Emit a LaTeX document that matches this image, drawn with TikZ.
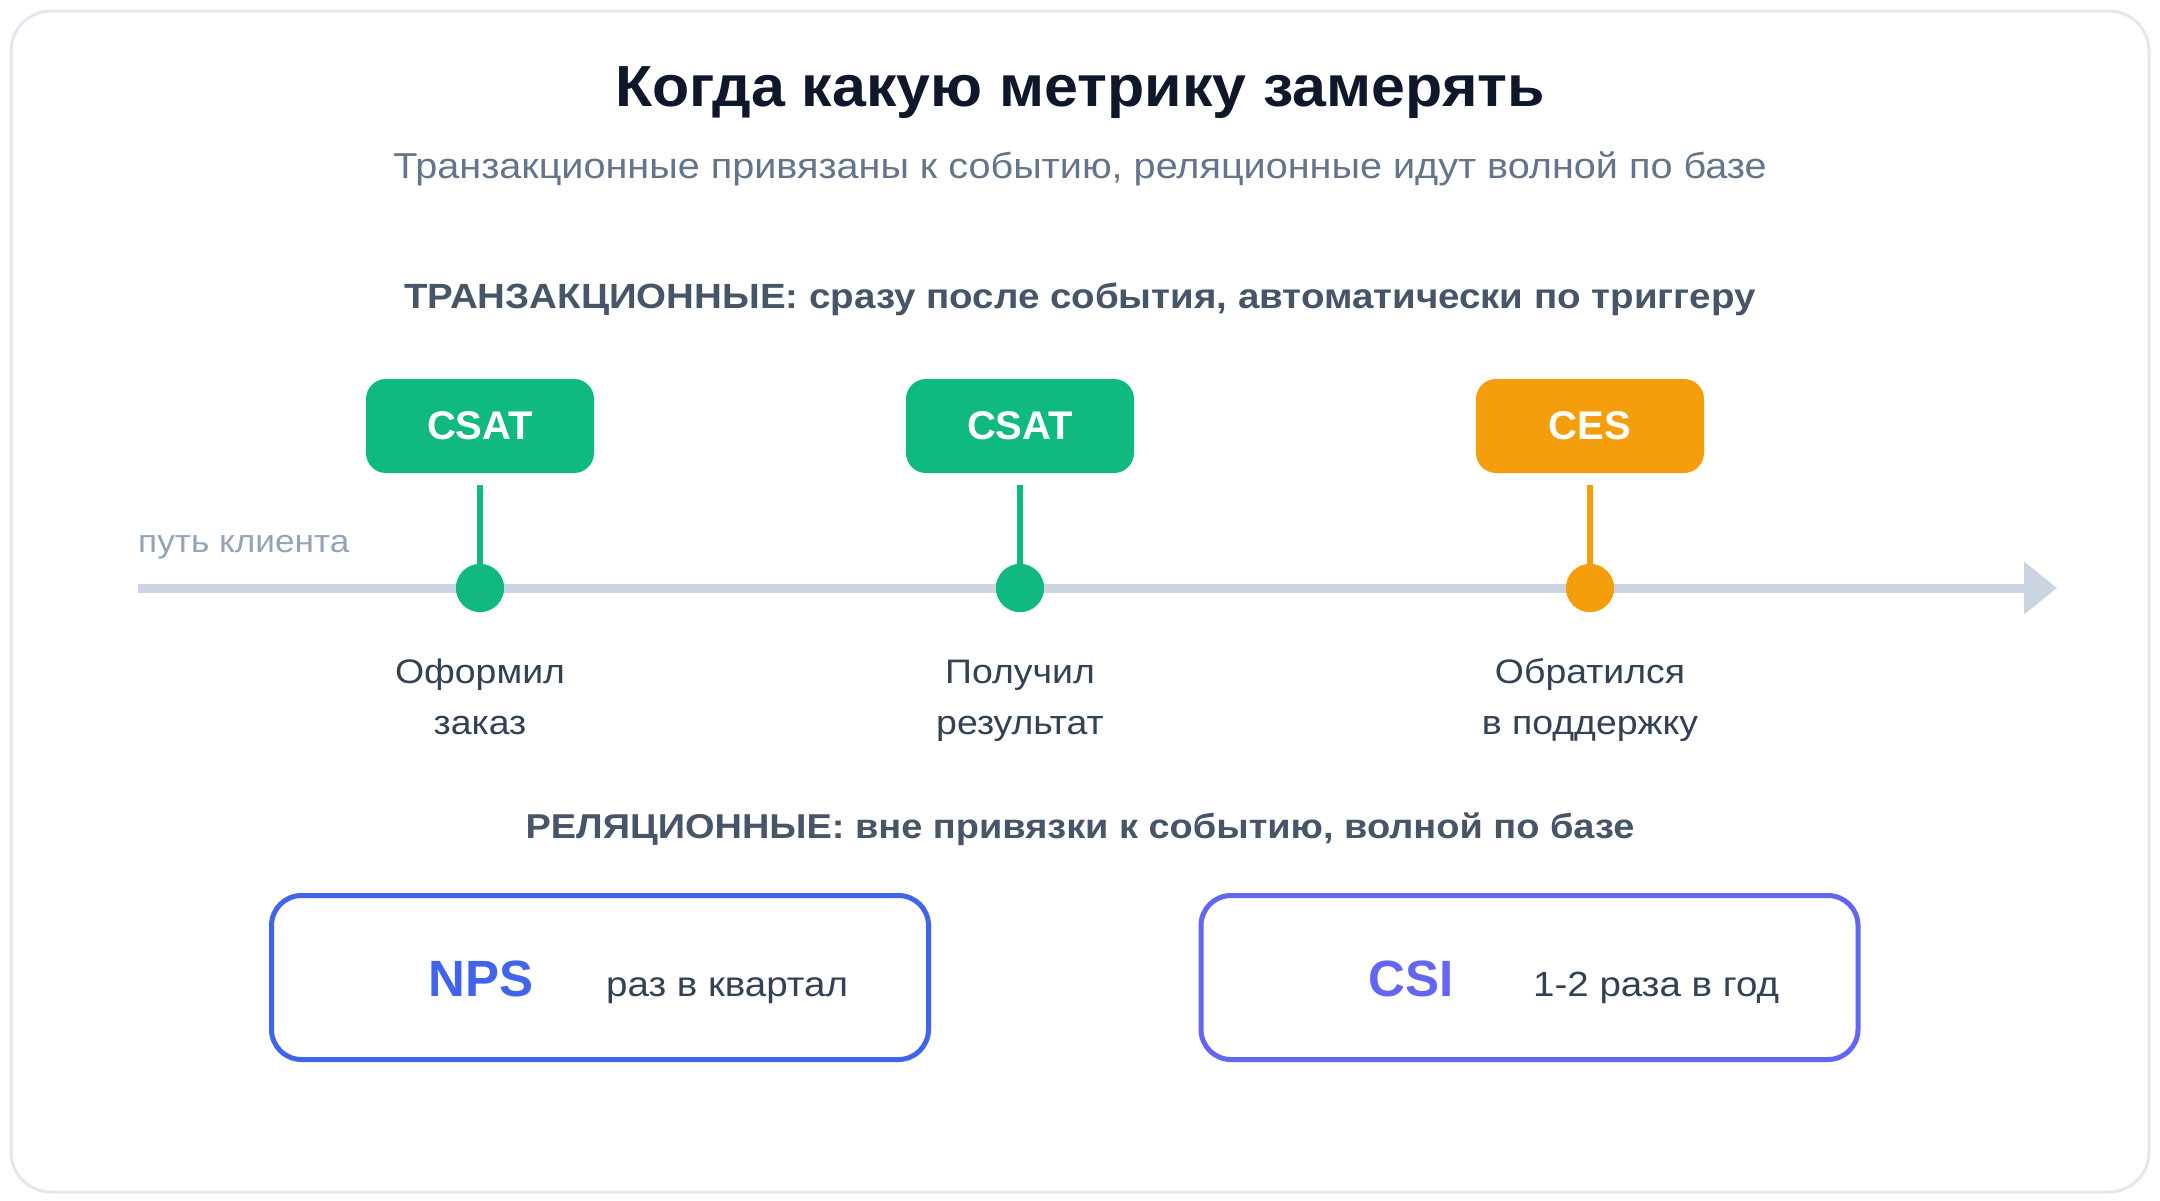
\documentclass[tikz,border=0pt]{standalone}
\usepackage{fontspec}
\setmainfont{Liberation Sans}
\newfontfamily\wide{Liberation Sans}[FakeStretch=1.1]
\newfontfamily\titlefont{Liberation Sans}[FakeStretch=1.05]
\usetikzlibrary{arrows.meta}
\definecolor{cTitle}{HTML}{0F172A}
\definecolor{cSub}{HTML}{64748B}
\definecolor{cHead}{HTML}{475569}
\definecolor{cPath}{HTML}{94A3B8}
\definecolor{cText}{HTML}{334155}
\definecolor{cGreen}{HTML}{10B981}
\definecolor{cAmber}{HTML}{F59E0B}
\definecolor{cBlue}{HTML}{4263EB}
\definecolor{cIndigo}{HTML}{6366F1}
\definecolor{cLine}{HTML}{CBD5E1}
\definecolor{cFrame}{HTML}{E2E8F0}
\tikzset{
  tag/.style={rounded corners=20pt, minimum width=228pt, minimum height=94pt, inner sep=0pt,
    text=white, font=\fontsize{40}{44}\selectfont\bfseries},
  dot/.style={circle, minimum size=48pt, inner sep=0pt},
  stem/.style={line width=6pt, shorten <=12pt},
  evt/.style={align=center, text=cText, font=\wide\fontsize{34}{51}\selectfont, inner sep=0pt},
  relbox/.style={rounded corners=30pt, line width=5pt, minimum width=657pt, minimum height=164pt, fill=white},
  metric/.style={font=\fontsize{51}{55}\selectfont\bfseries, inner sep=0pt, anchor=base west},
  freq/.style={font=\wide\fontsize{35}{40}\selectfont, text=cText, inner sep=0pt, anchor=base west},
  head/.style={font=\wide\fontsize{35}{40}\selectfont\bfseries, text=cHead, inner sep=0pt, anchor=base}
}
\begin{document}
\begin{tikzpicture}[x=1pt, y=-1pt]
\useasboundingbox (0,0) rectangle (2160,1200);
\fill[white] (0,0) rectangle (2160,1200);
\draw[cFrame, line width=3pt, rounded corners=40pt, fill=white] (11,11) rectangle (2149,1192);

\node[font=\titlefont\fontsize{58}{62}\selectfont\bfseries, text=cTitle, inner sep=0pt, anchor=base] (title) at (1080,106) {Когда какую метрику замерять};
\node[font=\wide\fontsize{36}{40}\selectfont, text=cSub, inner sep=0pt, anchor=base] (sub) at (1080,178) {Транзакционные привязаны к событию, реляционные идут волной по базе};

\node[head] (h1) at (1080,308) {ТРАНЗАКЦИОННЫЕ: сразу после события, автоматически по триггеру};

% timeline
\coordinate (tl0) at (138,588);
\coordinate (tl1) at (2057,588);
\draw[cLine, line width=9pt, -{Triangle[length=33pt, width=51pt]}] (tl0) -- (tl1);
\node[font=\wide\fontsize{32}{36}\selectfont, text=cPath, inner sep=0pt, anchor=base west] (path) at (138,552) {путь клиента};

\node[tag, fill=cGreen] (b1) at (480,426) {CSAT};
\node[tag, fill=cGreen] (b2) at (1020,426) {CSAT};
\node[tag, fill=cAmber] (b3) at (1590,426) {CES};

\node[dot, fill=cGreen] (d1) at (480,588) {};
\node[dot, fill=cGreen] (d2) at (1020,588) {};
\node[dot, fill=cAmber] (d3) at (1590,588) {};

\draw[stem, cGreen] (b1.south) -- (d1.center);
\draw[stem, cGreen] (b2.south) -- (d2.center);
\draw[stem, cAmber] (b3.south) -- (d3.center);
\node[dot, fill=cGreen] at (d1) {};
\node[dot, fill=cGreen] at (d2) {};
\node[dot, fill=cAmber] at (d3) {};

\node[evt, anchor=base] (e1) at (480,734) {Оформил\\заказ};
\node[evt, anchor=base] (e2) at (1020,734) {Получил\\результат};
\node[evt, anchor=base] (e3) at (1590,734) {Обратился\\в поддержку};

\node[head, font=\wide\fontsize{34.5}{40}\selectfont\bfseries] (h2) at (1080,838) {РЕЛЯЦИОННЫЕ: вне привязки к событию, волной по базе};

\node[relbox, draw=cBlue] (nps) at (600,977.5) {};
\node[relbox, draw=cIndigo] (csi) at (1529.5,977.5) {};
\node[metric, text=cBlue] (npsT) at (428,996) {NPS};
\node[freq] (npsF) at (606,996) {раз в квартал};
\node[metric, text=cIndigo] (csiT) at (1368,996) {CSI};
\node[freq] (csiF) at (1533,996) {1-2 раза в год};
\end{tikzpicture}
\end{document}
